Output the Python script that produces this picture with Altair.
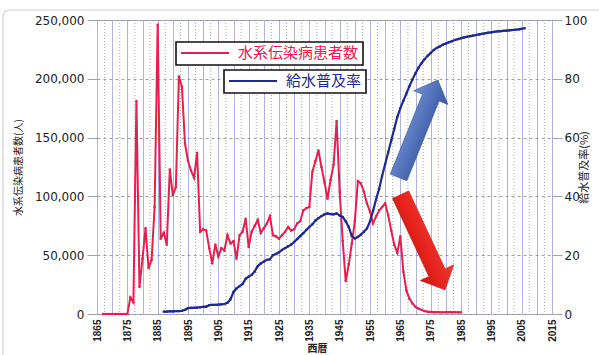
import altair as alt
import pandas as pd

# Water-borne infectious disease patients (persons), one value per year
case_years = list(range(1867, 1986))
case_counts = [
    # 1867-1875
    0, 0, 0, 0, 0, 0, 0, 0, 0,
    # 1876-1885
    14000, 10000, 181000, 23000, 47000, 73000, 39000, 46000, 91000, 246000,
    # 1886-1895
    64000, 69000, 59000, 123000, 101000, 108000, 202000, 193000, 145000, 130000,
    # 1896-1905
    122000, 116000, 137000, 70000, 72000, 71000, 56000, 43000, 59000, 49000,
    # 1906-1915
    56000, 54000, 67000, 60000, 62000, 47000, 67000, 70000, 81000, 57000,
    # 1916-1925
    70000, 75000, 80000, 69000, 73000, 77000, 83000, 67000, 66000, 64000,
    # 1926-1935
    67000, 70000, 74000, 71000, 72000, 77000, 79000, 88000, 90000, 91000,
    # 1936-1945
    121000, 130000, 139000, 125000, 112000, 98000, 114000, 127000, 164000, 104000,
    # 1946-1955
    62000, 28000, 42000, 60000, 79000, 113000, 111000, 104000, 94000, 87000,
    # 1956-1965
    77000, 83000, 88000, 91000, 94000, 84000, 71000, 59000, 52000, 66000,
    # 1966-1975
    36000, 20000, 13000, 9000, 6000, 4500, 3500, 2500, 2000, 1800,
    # 1976-1985
    1500, 1600, 1500, 1400, 1500, 1600, 1400, 1500, 1400, 1500,
]

# Water supply coverage (%), one value per year
supply_years = list(range(1887, 2007))
supply_rates = [
    # 1887-1896
    0.8, 0.8, 0.9, 0.9, 1.0, 1.0, 1.1, 1.4, 2.0, 2.1,
    # 1897-1906
    2.1, 2.2, 2.3, 2.4, 2.5, 3.0, 3.1, 3.1, 3.2, 3.3,
    # 1907-1916
    3.4, 3.8, 5.0, 7.5, 8.7, 9.5, 10.2, 12.0, 12.7, 13.3,
    # 1917-1926
    14.5, 16.3, 17.2, 17.8, 18.4, 18.6, 20.0, 20.4, 21.0, 21.8,
    # 1927-1936
    22.4, 23.0, 23.6, 24.5, 25.5, 26.5, 27.5, 28.6, 29.6, 30.5,
    # 1937-1946
    31.8, 32.6, 33.3, 33.9, 34.2, 34.0, 33.9, 34.2, 33.5, 33.0,
    # 1947-1956
    31.5, 29.6, 26.5, 25.7, 26.2, 27.0, 28.0, 29.1, 31.5, 35.0,
    # 1957-1966
    39.0, 42.5, 47.0, 51.0, 55.0, 59.0, 63.0, 67.0, 70.0, 72.5,
    # 1967-1976
    75.0, 77.5, 79.8, 81.9, 83.8, 85.3, 86.7, 87.8, 88.8, 89.8,
    # 1977-1986
    90.5, 91.0, 91.6, 92.0, 92.4, 92.8, 93.2, 93.5, 93.8, 94.1,
    # 1987-1996
    94.3, 94.5, 94.7, 94.9, 95.1, 95.3, 95.5, 95.7, 95.8, 96.0,
    # 1997-2006
    96.1, 96.2, 96.3, 96.4, 96.5, 96.6, 96.7, 96.8, 97.0, 97.2,
]

case_label = "水系伝染病患者数"
rate_label = "給水普及率"

# Axis ticks
case_ticks = [0, 50000, 100000, 150000, 200000, 250000]
rate_ticks = [0, 20, 40, 60, 80, 100]
major_years = list(range(1865, 2016, 5))
minor_years = [y + 2.5 for y in range(1865, 2015, 5)]

# Trend arrows (centre position in data units)
down_arrow_year = [1972.4]
down_arrow_cases = [61000]
up_arrow_year = [1970.9]
up_arrow_rate = [63.0]

RED = "#e4204f"
NAVY = "#1d2a8e"
JP = "Noto Sans CJK JP"
NUM = "DejaVu Sans"

cases_df = pd.DataFrame({"year": case_years, "cases": case_counts, "series": case_label})
rate_df = pd.DataFrame({"year": supply_years, "rate": supply_rates, "series": rate_label})
minor_df = pd.DataFrame({"year": minor_years})
down_df = pd.DataFrame({"year": down_arrow_year, "cases": down_arrow_cases})
up_df = pd.DataFrame({"year": up_arrow_year, "rate": up_arrow_rate})

x_enc = alt.X(
    "year:Q",
    scale=alt.Scale(domain=[1865, 2015], nice=False, zero=False),
    axis=alt.Axis(
        values=major_years, format="d",
        labelExpr="datum.value % 10 == 5 ? datum.label : ''",
        labelAngle=270, labelOverlap=False, labelFont="Liberation Sans",
        labelFontSize=10, labelFontWeight="bold", labelColor="#222",
        labelPadding=5, ticks=False, domain=False,
        grid=True, gridColor="#aeb2dc", gridWidth=1,
        title="西暦", titleFont=JP, titleFontSize=10, titleFontWeight="bold",
        titleColor="#222", titlePadding=2, titleX=220,
    ),
)

y_cases = alt.Y(
    "cases:Q",
    scale=alt.Scale(domain=[0, 250000], nice=False),
    axis=alt.Axis(
        orient="left", values=case_ticks,
        labelExpr="format(datum.value, ',')",
        grid=True, gridDash=[3, 3], gridColor="#8a8a8a", gridWidth=0.8,
        tickSize=10, tickColor="#9a9ec8", domain=False,
        labelFont=NUM, labelFontSize=12, labelColor="#222", labelPadding=3,
        title="水系伝染病患者数(人)", titleFont=JP, titleFontSize=10,
        titleFontWeight="normal", titleColor="#222", titlePadding=11,
    ),
)

y_rate = alt.Y(
    "rate:Q",
    scale=alt.Scale(domain=[0, 100], nice=False),
    axis=alt.Axis(
        orient="right", values=rate_ticks, grid=False,
        tickSize=10, tickColor="#9a9ec8", domain=False,
        labelFont=NUM, labelFontSize=12, labelColor="#222", labelPadding=2,
        title="給水普及率(%)", titleFont=JP, titleFontSize=11, titleAngle=270,
        titleFontWeight="normal", titleColor="#222", titlePadding=3,
    ),
)

arrow_path = "M0,-1L0.35,-0.64L0.17,-0.64L0.17,1L-0.17,1L-0.17,-0.64L-0.35,-0.64Z"


def legend(label_color, x, y):
    return alt.Legend(
        title=None, orient="none", legendX=x, legendY=y,
        strokeColor="#111", fillColor="white", padding=4, clipHeight=14,
        symbolType="stroke", symbolSize=2304, symbolStrokeWidth=2,
        labelFont=JP, labelFontSize=15, labelColor=label_color,
        labelOffset=8, labelLimit=400,
    )


# Light rounded frame along the top and left of the figure
frame = alt.Chart(pd.DataFrame({"k": [0]})).mark_rect(
    fill=None, stroke="#cfcfcf", strokeWidth=1.2, cornerRadius=6
).encode(x=alt.value(-94), x2=alt.value(520), y=alt.value(-10), y2=alt.value(350))

minor_grid = alt.Chart(minor_df).mark_rule(
    color="#a5a5a5", strokeDash=[1, 2], strokeWidth=1
).encode(x=x_enc)

red_line = alt.Chart(cases_df).mark_line(strokeWidth=2).encode(
    x=x_enc, y=y_cases,
    color=alt.Color("series:N", scale=alt.Scale(domain=[case_label], range=[RED]),
                    legend=legend(RED, 79, 22)),
)
red_pts = alt.Chart(cases_df).mark_point(
    shape="square", size=5, filled=True, color=RED, opacity=1
).encode(x=x_enc, y=y_cases)

red_arrow = alt.Chart(down_df).mark_point(
    shape=arrow_path, size=11025, angle=155, opacity=1, filled=True,
    fill=alt.Gradient(gradient="linear", x1=0, y1=0, x2=1, y2=0,
                      stops=[alt.GradientStop(color="#f23a30", offset=0),
                             alt.GradientStop(color="#e4201b", offset=0.6),
                             alt.GradientStop(color="#c91a15", offset=1)]),
    stroke="#c01a15", strokeWidth=0.6,
).encode(x=x_enc, y=y_cases)

blue_line = alt.Chart(rate_df).mark_line(strokeWidth=2.2).encode(
    x=x_enc, y=y_rate,
    color=alt.Color("series:N", scale=alt.Scale(domain=[rate_label], range=[NAVY]),
                    legend=legend(NAVY, 127, 50)),
)
blue_pts = alt.Chart(rate_df).mark_point(
    shape="square", size=5, filled=True, color=NAVY, opacity=1
).encode(x=x_enc, y=y_rate)

blue_arrow = alt.Chart(up_df).mark_point(
    shape=arrow_path, size=11025, angle=22, opacity=1, filled=True,
    fill=alt.Gradient(gradient="linear", x1=0, y1=0, x2=1, y2=0,
                      stops=[alt.GradientStop(color="#7390d4", offset=0),
                             alt.GradientStop(color="#4d6db6", offset=0.6),
                             alt.GradientStop(color="#3b579c", offset=1)]),
    stroke="#3a5597", strokeWidth=0.6,
).encode(x=x_enc, y=y_rate)

left = alt.layer(frame, minor_grid, red_line, red_pts, red_arrow)
right = alt.layer(blue_line, blue_pts, blue_arrow)

chart = (
    alt.layer(left, right)
    .resolve_scale(y="independent", color="independent")
    .properties(
        width=455, height=294,
        autosize=alt.AutoSizeParams(type="none"),
        padding={"left": 97, "top": 20, "right": 47, "bottom": 41},
        background="white",
    )
    .configure_view(stroke="#a9acd6", strokeWidth=1)
    .configure_legend(strokeWidth=1.6)
)

chart.save("out.html", embed_options={"renderer": "svg", "actions": False})
